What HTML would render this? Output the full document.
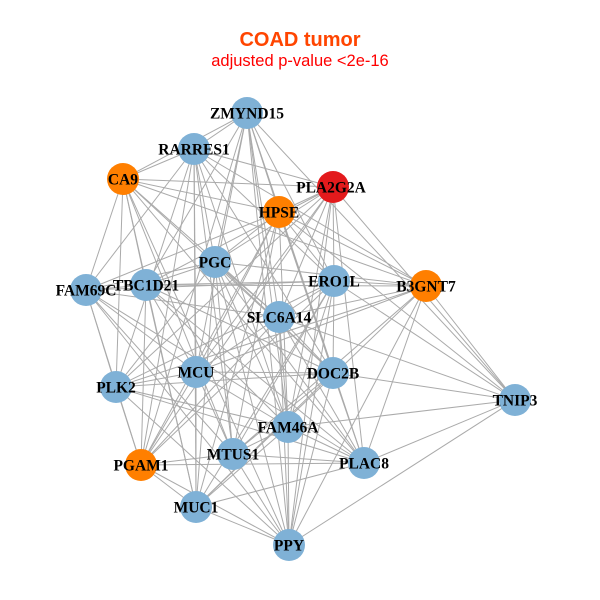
<!DOCTYPE html>
<html><head><meta charset="utf-8"><style>
html,body{margin:0;padding:0;background:#fff;}
svg{display:block}
.l{font-family:"Liberation Serif",serif;font-weight:bold;font-size:15.5px;fill:#000;text-anchor:middle;dominant-baseline:central}
</style></head><body>
<svg id="s" width="600" height="600" xmlns="http://www.w3.org/2000/svg">
<text x="300" y="46" text-anchor="middle" font-family="Liberation Sans,sans-serif" font-weight="bold" font-size="20" fill="#ff4500">COAD tumor</text>
<text x="300" y="66" text-anchor="middle" font-family="Liberation Sans,sans-serif" font-size="16.5" fill="#ff0000">adjusted p-value &lt;2e-16</text>
<g id="e" stroke="#aaaaaa" stroke-width="1"></g>
<g id="n"></g>
<g>
<text class="l" x="247" y="114">ZMYND15</text>
<text class="l" x="194" y="150">RARRES1</text>
<text class="l" x="123" y="180">CA9</text>
<text class="l" x="331" y="188">PLA2G2A</text>
<text class="l" x="279" y="213">HPSE</text>
<text class="l" x="215" y="263">PGC</text>
<text class="l" x="86" y="291">FAM69C</text>
<text class="l" x="146" y="286">TBC1D21</text>
<text class="l" x="334" y="282">ERO1L</text>
<text class="l" x="426" y="287">B3GNT7</text>
<text class="l" x="279" y="318">SLC6A14</text>
<text class="l" x="196" y="373">MCU</text>
<text class="l" x="333" y="374">DOC2B</text>
<text class="l" x="116" y="388">PLK2</text>
<text class="l" x="515" y="401">TNIP3</text>
<text class="l" x="288" y="428">FAM46A</text>
<text class="l" x="233" y="455">MTUS1</text>
<text class="l" x="364" y="464">PLAC8</text>
<text class="l" x="141" y="466">PGAM1</text>
<text class="l" x="196" y="508">MUC1</text>
<text class="l" x="289" y="546">PPY</text>
</g>
</svg>
<script>
var N=[[247,113,'b'],[194,149,'b'],[123,179,'o'],[333,187,'r'],[279,212,'o'],[215,262,'b'],[86,290,'b'],[146,285,'b'],[334,281,'b'],[426,286,'o'],[279,317,'b'],[196,372,'b'],[333,373,'b'],[116,387,'b'],[515,400,'b'],[288,427,'b'],[233,454,'b'],[364,463,'b'],[141,465,'o'],[196,507,'b'],[289,545,'b']];
var C={b:'#7fb1d6',o:'#ff7f00',r:'#e31a1c'};
var e=document.getElementById('e'),n=document.getElementById('n'),ns='http://www.w3.org/2000/svg';
var T=[3,4,8,9,10,12,15,17,20,0];
for(var i=0;i<N.length;i++)for(var j=i+1;j<N.length;j++){
 var ok;
 if(i==14||j==14){var o=i==14?j:i;ok=T.indexOf(o)>=0;}
 else ok=((i*7+j*13)%10)<7;
 if(!ok)continue;
 var l=document.createElementNS(ns,'line');
 l.setAttribute('x1',N[i][0]);l.setAttribute('y1',N[i][1]);l.setAttribute('x2',N[j][0]);l.setAttribute('y2',N[j][1]);
 e.appendChild(l);}
N.forEach(function(p){var c=document.createElementNS(ns,'circle');c.setAttribute('cx',p[0]);c.setAttribute('cy',p[1]);c.setAttribute('r',16);c.setAttribute('fill',C[p[2]]);n.appendChild(c);});
</script>
</body></html>
